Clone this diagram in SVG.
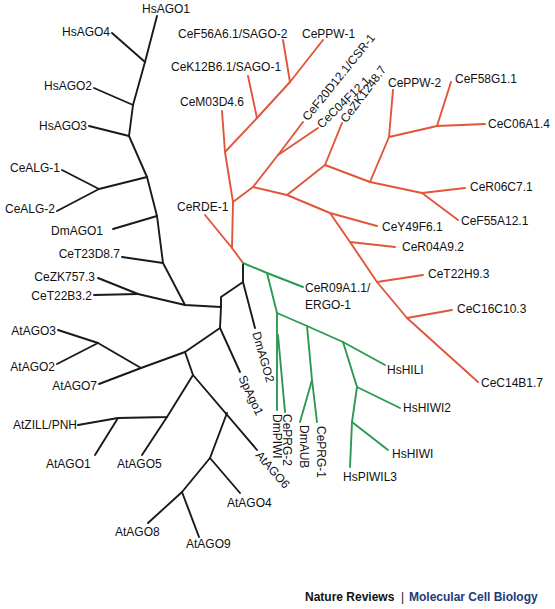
<svg xmlns="http://www.w3.org/2000/svg" width="555" height="609" viewBox="0 0 555 609">
<style>
.k{stroke:#1a1a1a}
.r{stroke:#e2553a}
.g{stroke:#2a9a52}
#edges path{fill:none;stroke-width:1.9;stroke-linecap:round;stroke-linejoin:round}
text{font-family:"Liberation Sans",Arial,sans-serif;font-size:12px;fill:#111}
.e{text-anchor:end}
.ft{font-weight:bold;font-size:12px}
</style>
<rect width="555" height="609" fill="#fff"/>
<g id="edges">
<g id="black-edges">
<path class="k" d="M157,16 L145,62 L133,105 L129,136 L147,177 L157,216 L163,263 L185,305 L221,307 L221,297 L243,282 L243,263"/>
<path class="k" d="M112,33 L145,62"/>
<path class="k" d="M94,88 L133,105"/>
<path class="k" d="M89,126 L129,136"/>
<path class="k" d="M62,170 L99,189 L147,177"/>
<path class="k" d="M57,211 L99,189"/>
<path class="k" d="M113,229 L157,216"/>
<path class="k" d="M122,257 L163,263"/>
<path class="k" d="M98,278 L138,294 L185,305"/>
<path class="k" d="M94,295 L138,294"/>
<path class="k" d="M243,282 L255,328"/>
<path class="k" d="M221,307 L220,328 L240,372"/>
<path class="k" d="M220,328 L185,352 L141,368 L98,343 L58,330"/>
<path class="k" d="M57,364 L98,343"/>
<path class="k" d="M99,384 L141,368"/>
<path class="k" d="M185,352 L193,375 L167,417 L118,418 L78,425"/>
<path class="k" d="M118,418 L95,455"/>
<path class="k" d="M167,417 L142,455"/>
<path class="k" d="M193,375 L257,450"/>
<path class="k" d="M227,413 L210,458 L240,493"/>
<path class="k" d="M210,458 L182,492 L148,523"/>
<path class="k" d="M182,492 L199,537"/>
</g>
<g id="red-edges">
<path class="r" d="M283,40 L290,82"/>
<path class="r" d="M323,40 L290,82 L257,118 L225,152 L233,202 L232,248 L243,263"/>
<path class="r" d="M248,76 L257,118"/>
<path class="r" d="M222,111 L225,152"/>
<path class="r" d="M233,202 L253,187 L278,155 L303,122"/>
<path class="r" d="M318,128 L278,155"/>
<path class="r" d="M253,187 L287,195 L330,213 L377,226"/>
<path class="r" d="M287,195 L325,165 L342,123"/>
<path class="r" d="M325,165 L370,182 L422,193 L465,188"/>
<path class="r" d="M422,193 L458,220"/>
<path class="r" d="M393,90 L389,137 L370,182"/>
<path class="r" d="M451,82 L437,126 L389,137"/>
<path class="r" d="M485,124 L437,126"/>
<path class="r" d="M330,213 L350,242 L395,247"/>
<path class="r" d="M350,242 L377,282 L423,275"/>
<path class="r" d="M377,282 L407,318 L452,310"/>
<path class="r" d="M407,318 L478,382"/>
<path class="r" d="M205,215 L232,248"/>
</g>
<g id="green-edges">
<path class="g" d="M243,263 L267,273 L303,287"/>
<path class="g" d="M267,273 L277,313 L277,410"/>
<path class="g" d="M277,313 L307,326 L343,342 L385,365"/>
<path class="g" d="M278,335 L285,412"/>
<path class="g" d="M307,326 L312,380 L300,422"/>
<path class="g" d="M312,380 L317,422"/>
<path class="g" d="M343,342 L357,387 L400,408"/>
<path class="g" d="M357,387 L352,422 L388,450"/>
<path class="g" d="M352,422 L350,467"/>
</g>
</g>
<g id="n-HsAGO1"><text x="142" y="13">HsAGO1</text></g>
<g id="n-HsAGO4"><text class="e" x="110" y="36">HsAGO4</text></g>
<g id="n-HsAGO2"><text class="e" x="92" y="90">HsAGO2</text></g>
<g id="n-HsAGO3"><text class="e" x="87" y="130">HsAGO3</text></g>
<g id="n-CeALG-1"><text class="e" x="60" y="172">CeALG-1</text></g>
<g id="n-CeALG-2"><text class="e" x="55" y="213">CeALG-2</text></g>
<g id="n-DmAGO1"><text class="e" x="103" y="235">DmAGO1</text></g>
<g id="n-CeT23D8.7"><text class="e" x="120" y="258">CeT23D8.7</text></g>
<g id="n-CeZK757.3"><text class="e" x="95" y="281">CeZK757.3</text></g>
<g id="n-CeT22B3.2"><text class="e" x="92" y="300">CeT22B3.2</text></g>
<g id="n-AtAGO3"><text class="e" x="56" y="335">AtAGO3</text></g>
<g id="n-AtAGO2"><text class="e" x="55" y="371">AtAGO2</text></g>
<g id="n-AtAGO7"><text class="e" x="97" y="390">AtAGO7</text></g>
<g id="n-AtZILL"><text class="e" x="77" y="429">AtZILL/PNH</text></g>
<g id="n-AtAGO1"><text x="46" y="468">AtAGO1</text></g>
<g id="n-AtAGO5"><text x="117" y="468">AtAGO5</text></g>
<g id="n-AtAGO8"><text x="115" y="536">AtAGO8</text></g>
<g id="n-AtAGO9"><text x="186" y="548">AtAGO9</text></g>
<g id="n-AtAGO4"><text x="227" y="507">AtAGO4</text></g>
<g id="n-AtAGO6"><text transform="translate(258,453) rotate(49)" y="4">AtAGO6</text></g>
<g id="n-SpAgo1"><text transform="translate(242,376) rotate(65)" y="4">SpAgo1</text></g>
<g id="n-DmAGO2"><text transform="translate(256,332) rotate(74)" y="4">DmAGO2</text></g>
<g id="n-DmPIWI"><text transform="translate(277,414) rotate(90)" y="4">DmPIWI</text></g>
<g id="n-CePRG-2"><text transform="translate(287,414) rotate(90)" y="4">CePRG-2</text></g>
<g id="n-DmAUB"><text transform="translate(304,425) rotate(90)" y="4">DmAUB</text></g>
<g id="n-CePRG-1"><text transform="translate(321,426) rotate(90)" y="4">CePRG-1</text></g>
<g id="n-CeR09A1.1"><text x="305" y="292">CeR09A1.1/</text><text x="305" y="309">ERGO-1</text></g>
<g id="n-HsHILI"><text x="387" y="374">HsHILI</text></g>
<g id="n-HsHIWI2"><text x="403" y="412">HsHIWI2</text></g>
<g id="n-HsHIWI"><text x="392" y="458">HsHIWI</text></g>
<g id="n-HsPIWIL3"><text x="343" y="481">HsPIWIL3</text></g>
<g id="n-CeF56A6.1"><text x="178" y="38">CeF56A6.1/SAGO-2</text></g>
<g id="n-CePPW-1"><text x="302" y="38">CePPW-1</text></g>
<g id="n-CeK12B6.1"><text x="171" y="71">CeK12B6.1/SAGO-1</text></g>
<g id="n-CeM03D4.6"><text x="180" y="106">CeM03D4.6</text></g>
<g id="n-CeF20D12.1"><text transform="translate(305,119) rotate(-51)" y="4">CeF20D12.1/CSR-1</text></g>
<g id="n-CeC04F12.1"><text transform="translate(319,126) rotate(-44)" y="4">CeC04F12.1</text></g>
<g id="n-CeZK1248.7"><text transform="translate(343,121) rotate(-53)" y="4">CeZK1248.7</text></g>
<g id="n-CePPW-2"><text x="388" y="87">CePPW-2</text></g>
<g id="n-CeF58G1.1"><text x="455" y="83">CeF58G1.1</text></g>
<g id="n-CeC06A1.4"><text x="488" y="128">CeC06A1.4</text></g>
<g id="n-CeR06C7.1"><text x="470" y="191">CeR06C7.1</text></g>
<g id="n-CeF55A12.1"><text x="461" y="225">CeF55A12.1</text></g>
<g id="n-CeY49F6.1"><text x="382" y="231">CeY49F6.1</text></g>
<g id="n-CeR04A9.2"><text x="402" y="251">CeR04A9.2</text></g>
<g id="n-CeT22H9.3"><text x="428" y="278">CeT22H9.3</text></g>
<g id="n-CeC16C10.3"><text x="457" y="313">CeC16C10.3</text></g>
<g id="n-CeC14B1.7"><text x="481" y="387">CeC14B1.7</text></g>
<g id="n-CeRDE-1"><text x="177" y="211">CeRDE-1</text></g>
<g id="footer"><text class="ft" x="305" y="601">Nature Reviews</text><text x="401" y="601">|</text><text class="ft" x="409" y="601" style="fill:#1c3b78">Molecular Cell Biology</text></g>
</svg>
